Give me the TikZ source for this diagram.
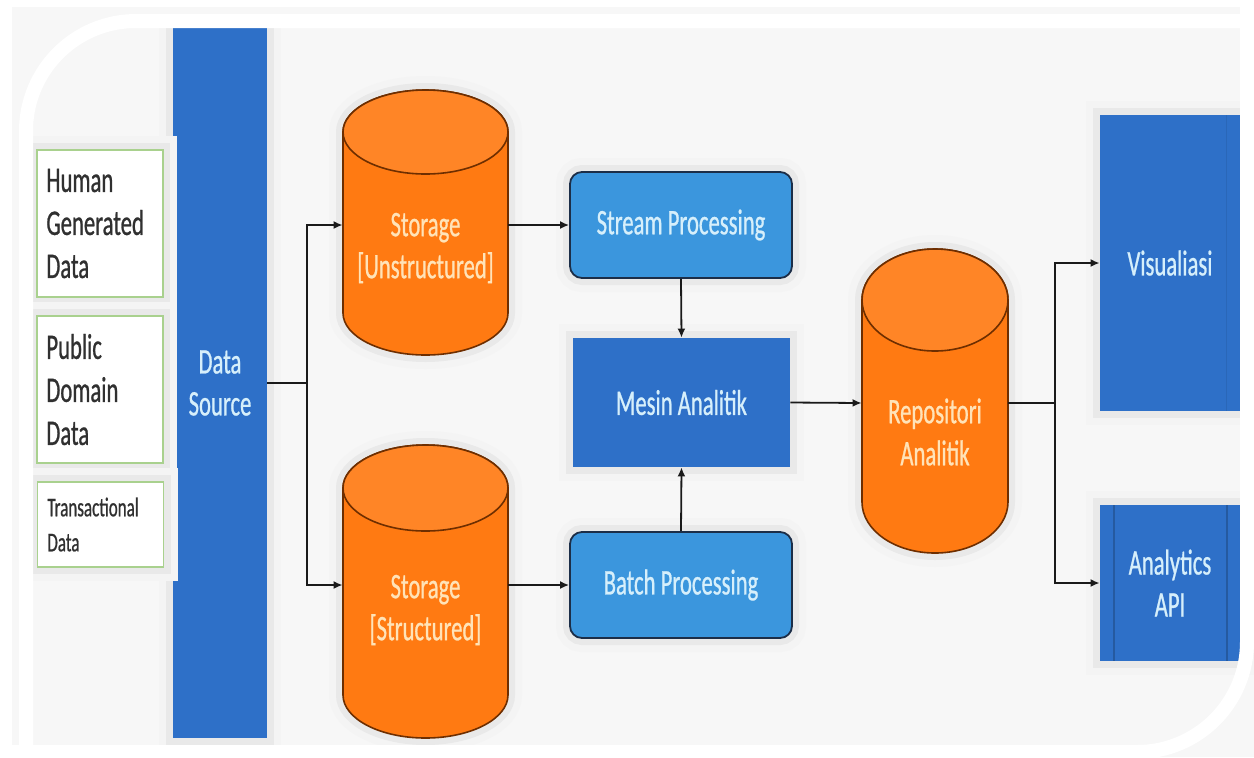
\documentclass[tikz,border=0pt]{standalone}
\usepackage{fontspec}
\setmainfont{Carlito}
\newfontfamily\cf[FakeStretch=0.63,FakeBold=0.7]{Carlito}
\usetikzlibrary{arrows.meta,calc}
\definecolor{bluedk}{HTML}{2E70C8}
\definecolor{bluelt}{HTML}{3B96DD}
\definecolor{navy}{HTML}{1C2E48}
\definecolor{orng}{HTML}{FF7A12}
\definecolor{orngtop}{HTML}{FF8526}
\definecolor{orngbd}{HTML}{6E2E00}
\definecolor{txtblue}{HTML}{D6EFFB}
\definecolor{txtorng}{HTML}{FFE3B8}
\definecolor{boxgreen}{HTML}{A9D18E}
\definecolor{txtdark}{HTML}{303030}
\definecolor{linec}{HTML}{1A1A1A}
\newcommand\mycyl[7]{%
  % #1 cx, #2 rx, #3 top, #4 bottom, #5 ry, #6 text y, #7 text
  \path[halo, fill=orng, draw=orngbd, line width=0.8pt]
    ({#1-#2},{-(#3)-(#5)}) -- ({#1-#2},{-(#4)+(#5)})
    arc[start angle=180,end angle=360,x radius=#2,y radius=#5]
    -- ({#1+#2},{-(#3)-(#5)})
    arc[start angle=0,end angle=180,x radius=#2,y radius=#5] -- cycle;
  \fill[orngtop] (#1,{-(#3)-(#5)}) ellipse[x radius=#2, y radius=#5];
  \draw[orngbd, line width=0.8pt] (#1,{-(#3)-(#5)}) ellipse[x radius=#2, y radius=#5];
  \node[lbl, text=txtorng] at (#1,{-(#6)}) {#7};
}
\begin{document}
\begin{tikzpicture}[x=0.5pt,y=0.5pt,
  halo/.style={preaction={draw=gray!9,line width=14pt},preaction={draw=gray!17,line width=7pt}},
  lbl/.style={font=\cf\fontsize{18}{21}\selectfont, align=center, inner sep=0pt},
  srcbox/.style={draw=boxgreen, line width=0.8pt, fill=white, halo, minimum width=63pt, inner sep=0pt},
  srctxt/.style={font=\cf\fontsize{18}{21.5}\selectfont, text=txtdark, align=left, inner sep=0pt, anchor=west},
  darkbox/.style={fill=bluedk, halo, inner sep=0pt, text=txtblue, font=\cf\fontsize{18}{21}\selectfont, align=center},
  procbox/.style={fill=bluelt, draw=navy, line width=0.9pt, rounded corners=6pt, halo, inner sep=0pt, text=txtblue, font=\cf\fontsize{18}{21}\selectfont, align=center, minimum width=111pt, minimum height=53pt},
  anch/.style={inner sep=0pt, minimum height=4pt},
  conn/.style={draw=linec, line width=0.9pt},
  arr/.style={conn, -{Latex[length=4.5pt,width=4pt]}},
  band/.style={white, line width=7pt, rounded corners=55pt}
]
\useasboundingbox (0,0) rectangle (1254,-757);
% background frame
\fill[white] (0,0) rectangle (1254,-757);
\fill[gray!6] (12,-7) rectangle (1254,-757);

% data source column
\node[darkbox, minimum width=47pt, minimum height=355pt] (ds) at (220,-383) {Data\\Source};

% source boxes
\node[srcbox, minimum height=73.5pt] (hg) at (100,-223.5) {};
\node[srctxt] at (46,-223.5) {Human\\Generated\\Data};
\node[srcbox, minimum height=73.5pt] (pd) at (100,-389.5) {};
\node[srctxt] at (46,-389.5) {Public\\Domain\\Data};
\node[srcbox, minimum height=42.5pt] (td) at (100.5,-524.5) {};
\node[srctxt, font=\cf\fontsize{13.5}{17.5}\selectfont] at (47,-524.5) {Transactional\\Data};

% storages
\mycyl{425.5}{82.5}{90}{355}{42}{248}{Storage\\{[}Unstructured{]}}
\node[anch, minimum width=82.5pt] (su) at (425.5,-225) {};
\mycyl{425.5}{82.5}{445}{738}{43}{610}{Storage\\{[}Structured{]}}
\node[anch, minimum width=82.5pt] (ss) at (425.5,-585) {};

% processing
\node[procbox] (sp) at (681,-225) {Stream Processing};
\node[darkbox, minimum width=108.5pt, minimum height=64.5pt] (ma) at (681.5,-402.5) {Mesin Analitik};
\node[procbox] (bp) at (681,-585) {Batch Processing};

% repository
\mycyl{935}{73}{249}{553}{51}{432}{Repositori\\Analitik}
\node[anch, minimum width=73pt] (rep) at (935,-403) {};

% outputs
\node[darkbox, minimum width=70pt, minimum height=148pt] (vis) at (1170,-263) {Visualiasi};
\draw[bluedk!85!black, line width=0.5pt, opacity=0.5] (1226,-115) -- (1226,-411);
\node[darkbox, minimum width=70pt, minimum height=78pt] (api) at (1170,-583) {Analytics\\API};
\draw[bluedk!80!black, line width=0.6pt] (1114,-505) -- (1114,-661);
\draw[bluedk!80!black, line width=0.6pt] (1227,-505) -- (1227,-661);

% white frame bands
\draw[band] (26,-800) -- (26,-21) -- (1300,-21);
\draw[band] (1247,40) -- (1247,-752) -- (-40,-752);

% connectors
\coordinate (j1) at (307,-383);
\draw[conn] (ds.east) -- (j1);
\draw[arr] (j1) |- (su.west);
\draw[arr] (j1) |- (ss.west);
\draw[arr] (su.east) -- (sp.west);
\draw[arr] (ss.east) -- (bp.west);
\draw[arr] (sp.south) -- (ma.north);
\draw[arr] (bp.north) -- (ma.south);
\draw[arr] (ma.east) -- (rep.west);
\coordinate (j2) at (1055,-403);
\draw[conn] (rep.east) -- (j2);
\draw[arr] (j2) |- (vis.west);
\draw[arr] (j2) |- (api.west);
\end{tikzpicture}
\end{document}
